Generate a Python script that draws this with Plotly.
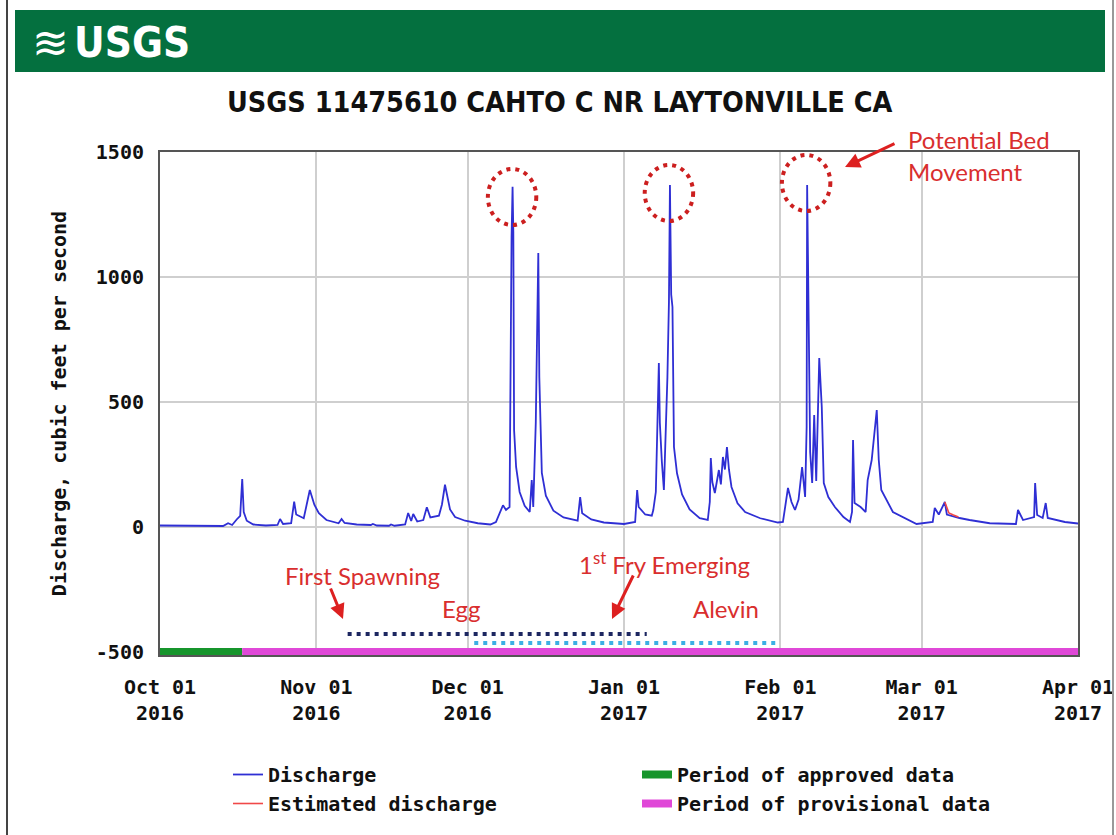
import pandas as pd
import plotly.graph_objects as go

START = pd.Timestamp("2016-10-01")

# ---- data (days since 2016-10-01, discharge in cubic feet per second) ----
discharge_day = [0, 5, 10, 12.5, 13.5, 14.3, 15.2, 15.9, 16.3, 16.6, 17.2, 18.5, 21, 23.3, 23.8, 24.4,
                 26.0, 26.6, 27.0, 28.5, 29.7, 30.3, 30.6, 31.5, 33, 35.4, 36.0, 36.6, 39, 41.8, 42.2, 43,
                 45.4, 45.8, 46.5, 48.6, 49.2, 49.8, 50.2, 51.0, 52.2, 52.9, 53.6, 55.3, 55.9, 56.5, 57.0,
                 57.5, 58.5, 60.5, 63, 65.5, 66.6, 67.3, 68.0, 68.6, 69.3, 69.7, 69.9, 70.05, 70.2, 70.6,
                 71.3, 72.3, 73.3, 73.7, 74.0, 74.5, 75.0, 75.2, 75.7, 76.5, 78, 80, 82.8, 83.3, 83.7, 85.5,
                 88, 92, 94.2, 94.6, 94.9, 96.2, 97.5, 97.8, 98.3, 98.9, 99.1, 99.5, 99.9, 100.6, 100.9,
                 101.1, 101.35, 101.6, 101.9, 102.5, 103.5, 105, 107, 108.6, 109.0, 109.2, 109.5, 110.0,
                 110.8, 111.2, 111.6, 112.0, 112.4, 112.8, 113.3, 114.5, 116, 119, 122.5, 123.5, 124.5,
                 125.2, 125.9, 126.6, 127.3, 127.9, 128.2, 128.3, 128.45, 128.9, 129.3, 129.7, 130.1,
                 130.7, 131.2, 131.6, 132.5, 133.8, 135.5, 136.8, 137.2, 137.4, 137.7, 138.9, 139.9,
                 140.3, 141.1, 142.1, 142.5, 143.0, 145.3, 150, 153.2, 153.6, 154.4, 155.6, 156.0, 158.5,
                 160.5, 164.5, 169.7, 170.1, 171.1, 173.3, 173.5, 173.9, 175.0, 175.6, 176.0, 179.4, 182]
discharge_cfs = [6, 5, 5, 4, 15, 8, 30, 45, 192, 60, 25, 10, 6, 8, 32, 12,
                 15, 101, 50, 35, 148, 110, 89, 55, 28, 15, 32, 16, 10, 8, 12, 6,
                 5, 10, 5, 10, 56, 24, 52, 22, 28, 79, 38, 45, 90, 169, 125,
                 70, 40, 25, 15, 10, 20, 55, 87, 68, 80, 1160, 1361, 1180, 388, 240,
                 140, 85, 60, 188, 80, 416, 1096, 600, 216, 125, 65, 38, 25, 120, 55, 30,
                 18, 12, 20, 148, 80, 50, 45, 68, 140, 656, 416, 260, 148, 600, 900,
                 1368, 930, 880, 320, 215, 130, 70, 35, 28, 100, 276, 180, 136,
                 228, 170, 280, 230, 320, 230, 160, 95, 60, 35, 18, 20, 156,
                 100, 68, 110, 240, 120, 400, 1368, 1020, 300, 176, 448, 184,
                 676, 480, 176, 120, 80, 40, 20, 60, 348, 96, 80, 60,
                 188, 268, 468, 268, 148, 60, 12, 20, 76, 50, 100, 50, 36,
                 28, 15, 12, 68, 28, 40, 176, 48, 36, 96, 36, 20, 14]

estimated_day = [155.6, 156.4, 157.3, 158.3]
estimated_cfs = [100, 56, 48, 40]

# data-approval periods (days since start)
approved_day = [0, 16.3]
provisional_day = [16.3, 182]
period_level = -500

# life-stage periods (days since start) and their plotting levels
spawn_egg_day = [37.2, 96.5]
spawn_egg_level = -428
alevin_day = [62.3, 122.9]
alevin_level = -464

# peaks flagged as potential bed movement (day, cfs at circle centre)
bed_day = [69.8, 100.9, 128.1]
bed_cfs = [1320, 1336, 1376]

x_tick_days = [0, 31, 61, 92, 123, 151, 182]
x_tick_text = ["Oct 01<br>2016", "Nov 01<br>2016", "Dec 01<br>2016", "Jan 01<br>2017",
               "Feb 01<br>2017", "Mar 01<br>2017", "Apr 01<br>2017"]
y_ticks = [-500, 0, 500, 1000, 1500]
Y_RANGE = [-512, 1500]


def to_dt(days):
    return [START + pd.Timedelta(days=float(d)) for d in days]


# ---- layout geometry ----
W, H = 1116, 835
ML, MR, MT, MB = 160, 38, 152, 180
PW = W - ML - MR
PH = H - MT - MB


def px(xp):
    return (xp - ML) / PW


def py(yp):
    return (H - MB - yp) / PH


def dday(xp):
    return START + pd.Timedelta(days=(xp - ML) / PW * 182)


def dval(yp):
    return Y_RANGE[1] - (yp - MT) * (Y_RANGE[1] - Y_RANGE[0]) / PH


MONO = "DejaVu Sans Mono"
RED = "#d92e2e"
TXT = "Lato"
NARROW = "Liberation Sans Narrow, DejaVu Sans Condensed, sans-serif"

fig = go.Figure()

fig.add_trace(go.Scatter(x=to_dt(discharge_day), y=discharge_cfs, mode="lines",
                         line=dict(color="#2f2fd4", width=1.8), name="Discharge"))
fig.add_trace(go.Scatter(x=to_dt(approved_day), y=[period_level] * 2, mode="lines",
                         line=dict(color="#17952c", width=8), name="Period of approved data"))
fig.add_trace(go.Scatter(x=to_dt(estimated_day), y=estimated_cfs, mode="lines",
                         line=dict(color="#f04848", width=1.6), name="Estimated discharge"))
fig.add_trace(go.Scatter(x=to_dt(provisional_day), y=[period_level] * 2, mode="lines",
                         line=dict(color="#e048d8", width=8), name="Period of provisional data"))
fig.add_trace(go.Scatter(x=to_dt(spawn_egg_day), y=[spawn_egg_level] * 2, mode="lines",
                         line=dict(color="#1c2660", width=4, dash="4px,5px"), showlegend=False))
fig.add_trace(go.Scatter(x=to_dt(alevin_day), y=[alevin_level] * 2, mode="lines",
                         line=dict(color="#3cb0e4", width=4, dash="4px,5px"), showlegend=False))

# circles around flagged peaks
half_w_days = 4.8
half_h_cfs = 112
for d, c in zip(bed_day, bed_cfs):
    x0, x1 = to_dt([d - half_w_days, d + half_w_days])
    fig.add_shape(type="circle", xref="x", yref="y", x0=x0, x1=x1,
                  y0=c - half_h_cfs, y1=c + half_h_cfs,
                  line=dict(color="#cc1f1f", width=4, dash="4px,5px"))

# header banner, frame lines
fig.add_shape(type="rect", xref="paper", yref="paper", x0=px(15), x1=px(1105), y0=py(72), y1=py(10),
              fillcolor="#04703f", line=dict(width=0), layer="below")
fig.add_shape(type="line", xref="paper", yref="paper", x0=px(7), x1=px(7), y0=py(835), y1=py(0),
              line=dict(color="#444444", width=2))
fig.add_shape(type="line", xref="paper", yref="paper", x0=px(1113), x1=px(1113), y0=py(835), y1=py(0),
              line=dict(color="#999999", width=2))

ann = []
ann.append(dict(text="≋", xref="paper", yref="paper", x=px(50), y=py(42), showarrow=False,
                font=dict(family="DejaVu Sans", size=44, color="white"), xanchor="center", yanchor="middle"))
ann.append(dict(text="<b>USGS</b>", xref="paper", yref="paper", x=px(72), y=py(42), showarrow=False,
                font=dict(family=NARROW, size=42, color="white"), xanchor="left", yanchor="middle"))
ann.append(dict(text="<b>USGS 11475610 CAHTO C NR LAYTONVILLE CA</b>", xref="paper", yref="paper",
                x=px(560), y=py(103), showarrow=False,
                font=dict(family=NARROW, size=28.5, color="#111111"), xanchor="center", yanchor="middle"))

# red labels
LBL = dict(family=TXT, size=24, color=RED)
ann.append(dict(text="First Spawning", x=dday(362), y=dval(575), showarrow=False, font=LBL))
ann.append(dict(text="Egg", x=dday(461), y=dval(608), showarrow=False, font=LBL))
ann.append(dict(text="1<sup>st</sup> Fry Emerging", x=dday(664), y=dval(563), showarrow=False, font=LBL))
ann.append(dict(text="Alevin", x=dday(726), y=dval(608), showarrow=False, font=LBL))
ann.append(dict(text="Potential Bed", xref="paper", yref="paper", x=px(906), y=py(139),
                showarrow=False, xanchor="left", yanchor="middle", font=LBL))
ann.append(dict(text="Movement", xref="paper", yref="paper", x=px(906), y=py(172),
                showarrow=False, xanchor="left", yanchor="middle", font=LBL))
# arrows
for tip, tail in [((343, 619), (330, 587)), ((612, 619), (634, 574)), ((845, 167), (896, 143))]:
    ann.append(dict(text="", x=dday(tip[0]), y=dval(tip[1]), showarrow=True, arrowhead=2,
                    arrowsize=1, arrowwidth=3, arrowcolor="#dd2020",
                    ax=tail[0] - tip[0], ay=tail[1] - tip[1]))

TICKFONT = dict(family=MONO, size=20, color="#111111", weight="bold")

fig.update_layout(
    width=W, height=H, autosize=False,
    margin=dict(l=ML, r=MR, t=MT, b=MB, autoexpand=False),
    paper_bgcolor="white", plot_bgcolor="white",
    annotations=ann,
    showlegend=True,
    legend=dict(orientation="h", x=px(228), y=py(755), xanchor="left", yanchor="top",
                entrywidth=364, entrywidthmode="pixels", tracegroupgap=0,
                font=dict(family=MONO, size=20, color="#111111", weight="bold"),
                bgcolor="rgba(0,0,0,0)", itemwidth=30),
    xaxis=dict(type="date", range=[START, START + pd.Timedelta(days=182)],
               tickvals=to_dt(x_tick_days), ticktext=x_tick_text,
               showgrid=True, gridcolor="#cfcfcf", gridwidth=1.5,
               showline=True, linecolor="#555555", linewidth=2, mirror=True, ticks="",
               ticklabelstandoff=13, tickfont=TICKFONT),
    yaxis=dict(range=Y_RANGE, tickvals=y_ticks, ticktext=[str(v) for v in y_ticks],
               showgrid=True, gridcolor="#cfcfcf", gridwidth=1.5, zeroline=False,
               showline=True, linecolor="#555555", linewidth=2, mirror=True, ticks="",
               ticklabelstandoff=10, tickfont=TICKFONT,
               title=dict(text="Discharge, cubic feet per second", standoff=24, font=TICKFONT)),
)

fig.write_html("out.html", post_script="document.body.style.margin='0px';",
               config={"displayModeBar": False})
